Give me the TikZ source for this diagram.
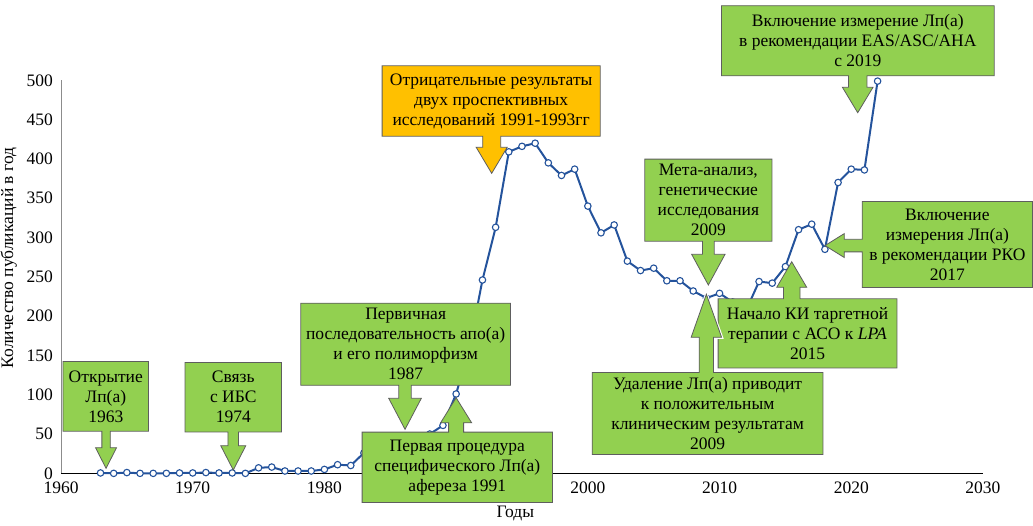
\documentclass[tikz,border=0pt]{standalone}
\usepackage{fontspec}
\setmainfont{Liberation Serif}
\usetikzlibrary{calc}
\definecolor{mygreen}{HTML}{92D050}
\definecolor{myorange}{HTML}{FFC000}
\definecolor{myblue}{HTML}{24539C}
\definecolor{myline}{HTML}{5E5E5E}
\definecolor{myaxis}{HTML}{8C8C8C}
\pgfdeclarelayer{chart}
\pgfdeclarelayer{fills}
\pgfsetlayers{chart,fills,main}
\tikzset{
  txt/.style={inner sep=0pt, font=\fontsize{17.5}{20}\selectfont},
  box/.style={txt, align=center},
  callout/.style={draw=myline, line width=0.8pt, line join=miter},
  halo/.style={preaction={draw=white, line width=3pt}},
  dot/.style={circle, draw=myblue, fill=white, line width=1.1pt, inner sep=0pt, minimum size=6.5pt},
  dataline/.style={draw=myblue, line width=2pt, line join=round},
}
% publications per year
\newcommand{\pubdata}{1963/0.5, 1964/0, 1965/1, 1966/0, 1967/0, 1968/0, 1969/0.5, 1970/0.5,
  1971/1, 1972/0.5, 1973/0.5, 1974/0, 1975/7, 1976/8, 1977/3, 1978/3, 1979/3, 1980/5,
  1981/11, 1982/10, 1983/26, 1984/30, 1985/35, 1986/40, 1987/45, 1988/50, 1989/61, 1990/101,
  1991/160, 1992/246, 1993/313, 1994/409, 1995/416, 1996/420, 1997/395, 1998/379, 1999/387,
  2000/340, 2001/306, 2002/316, 2003/270, 2004/258, 2005/261, 2006/245, 2007/245, 2008/232,
  2009/223, 2010/229, 2011/218, 2012/207, 2013/244, 2014/242, 2015/263, 2016/310, 2017/317,
  2018/285, 2019/370, 2020/387, 2021/386, 2022/499}
% [style]{box}{tip}{shaft half}{head half}{head length}{colour}
\newcommand{\downcallout}[7][]{%
  \begin{pgfonlayer}{fills}
  \draw[callout, fill=#7, #1] let \p1=(#3), \p2=(#2.south) in
    (#2.south west) -- (#2.north west) -- (#2.north east) -- (#2.south east)
    -- (\x1+#4,\y2) -- (\x1+#4,\y1+#6) -- (\x1+#5,\y1+#6) -- (\x1,\y1)
    -- (\x1-#5,\y1+#6) -- (\x1-#4,\y1+#6) -- (\x1-#4,\y2) -- cycle;
  \end{pgfonlayer}}
\newcommand{\upcallout}[7][]{%
  \begin{pgfonlayer}{fills}
  \draw[callout, fill=#7, #1] let \p1=(#3), \p2=(#2.north) in
    (#2.north west) -- (#2.south west) -- (#2.south east) -- (#2.north east)
    -- (\x1+#4,\y2) -- (\x1+#4,\y1-#6) -- (\x1+#5,\y1-#6) -- (\x1,\y1)
    -- (\x1-#5,\y1-#6) -- (\x1-#4,\y1-#6) -- (\x1-#4,\y2) -- cycle;
  \end{pgfonlayer}}
\newcommand{\leftcallout}[7][]{%
  \begin{pgfonlayer}{fills}
  \draw[callout, fill=#7, #1] let \p1=(#3), \p2=(#2.west) in
    (#2.north west) -- (#2.north east) -- (#2.south east) -- (#2.south west)
    -- (\x2,\y1-#4) -- (\x1+#6,\y1-#4) -- (\x1+#6,\y1-#5) -- (\x1,\y1)
    -- (\x1+#6,\y1+#5) -- (\x1+#6,\y1+#4) -- (\x2,\y1+#4) -- cycle;
  \end{pgfonlayer}}

\begin{document}
\begin{tikzpicture}[x=13.17pt, y=0.786pt]
  \useasboundingbox (-4.632,-65.8) rectangle (73.80,602.2);

  \begin{pgfonlayer}{chart}
    % axes
    \draw[myaxis, line width=1pt] (0,0) -- (0,500);
    \draw[black, line width=1pt] (0,0) -- (70,0);
    \foreach \v in {0,50,...,500}
      \node[txt, anchor=east] at ([xshift=-8pt]0,\v) {\v};
    \foreach \yr in {1960,1970,...,2030}
      \node[txt, anchor=north] at ([yshift=-8pt]{\yr-1960},0) {\yr};
    % data
    \foreach \yr/\v in \pubdata
      \coordinate (p\yr) at ({\yr-1960},\v);
    \draw[dataline] (p1963) foreach \yr in {1964,...,2022} {-- (p\yr)};
    \foreach \yr in {1963,...,2022}
      \node[dot] (d\yr) at (p\yr) {};
  \end{pgfonlayer}

  \node[txt, rotate=90] (ylab) at (-3.96,274) {Количество публикаций в год};
  \node[txt] (xlab) at (34.49,-50.5) {Годы};

  % arrow tips
  \coordinate (tipdisc) at (3.42,6.4);
  \coordinate (tipihd) at (13.08,4.2);
  \coordinate (tipapoa) at (26.12,56);
  \coordinate (tipneg) at (32.7,381.7);
  \coordinate (tipmeta) at (49.15,239.6);
  \coordinate (tipaso) at (55.48,269.2);
  \coordinate (tiprko) at (58.01,289.8);
  \coordinate (tipeas) at (60.49,458.8);

  \node[box, minimum width=85pt, minimum height=69.3pt] (disc) at (3.40,98.0) {Открытие\\Лп(а)\\1963};
  \downcallout{disc}{tipdisc}{4.2pt}{10.5pt}{20.6pt}{mygreen}

  \node[box, minimum width=96pt, minimum height=69pt] (ihd) at (13.08,96.8) {Связь\\с ИБС\\1974};
  \downcallout{ihd}{tipihd}{5.3pt}{12.5pt}{24.3pt}{mygreen}

  \node[box, minimum width=209.3pt, minimum height=81.7pt] (apoa) at (26.17,164.2)
    {Первичная\\последовательность апо(а)\\и его полиморфизм\\1987};
  \downcallout{apoa}{tipapoa}{6.2pt}{16.3pt}{31pt}{mygreen}

  \node[box, minimum width=190pt, minimum height=70pt] (apher) at (30.09,7.63)
    {Первая процедура\\специфического Лп(а)\\афереза 1991};
  \upcallout{apher}{d1990.south}{7.5pt}{15.5pt}{25pt}{mygreen}

  \node[box, minimum width=217.7pt, minimum height=70pt] (neg) at (32.66,473.7)
    {Отрицательные результаты\\двух проспективных\\исследований 1991-1993гг};
  \downcallout{neg}{tipneg}{9pt}{15.5pt}{26pt}{myorange}

  \node[box, minimum width=126.7pt, minimum height=81.7pt] (meta) at (49.15,347.5)
    {Мета-анализ,\\генетические\\исследования\\2009};
  \downcallout{meta}{tipmeta}{5.8pt}{16.7pt}{30.7pt}{mygreen}

  \node[box, minimum width=178.4pt, minimum height=68.7pt] (aso) at (56.68,178.1)
    {Начало КИ таргетной\\терапии с АСО к \textit{LPA}\\2015};
  \upcallout{aso}{tipaso}{8.3pt}{15pt}{25.6pt}{mygreen}

  \node[box, minimum width=230.4pt, minimum height=81.6pt] (removal) at (49.09,76.1)
    {Удаление Лп(а) приводит\\к положительным\\клиническим результатам\\2009};
  \upcallout[halo]{removal}{d2009.north}{7.2pt}{15.2pt}{43pt}{mygreen}

  \node[box, minimum width=170pt, minimum height=85.6pt] (rko) at (67.30,291.1)
    {Включение\\измерения Лп(а)\\в рекомендации РКО\\2017};
  \leftcallout{rko}{tiprko}{6.3pt}{12pt}{19.3pt}{mygreen}

  \node[box, minimum width=272.3pt, minimum height=69.7pt] (eas) at (60.50,550.3)
    {Включение измерение Лп(а)\\в рекомендации EAS/ASC/AHA\\с 2019};
  \downcallout{eas}{tipeas}{9.2pt}{15.3pt}{25.4pt}{mygreen}
\end{tikzpicture}
\end{document}
